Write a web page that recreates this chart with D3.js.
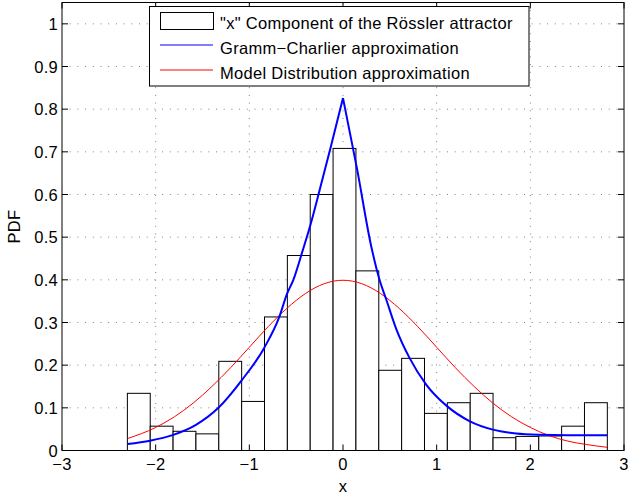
<!DOCTYPE html>
<html>
<head>
<meta charset="utf-8">
<script src="https://cdn.jsdelivr.net/npm/d3@7"></script>
<style>
  body { margin: 0; background: #fff; }
  svg { display: block; font-family: 'Liberation Sans', Arial, sans-serif; }
  text { font-size: 16.5px; letter-spacing: 0.3px; }
</style>
</head>
<body>
<svg id="chart" width="629" height="498"></svg>
<script>
// histogram bin edges and heights
const binEdges = [-2.302, -2.058, -1.814, -1.570, -1.326, -1.082, -0.838, -0.594, -0.350, -0.106,
    0.138, 0.382, 0.626, 0.870, 1.114, 1.358, 1.602, 1.846, 2.090, 2.334, 2.578, 2.822];
const binHeights = [0.134, 0.057, 0.045, 0.039, 0.209, 0.115, 0.313, 0.457, 0.600, 0.708,
    0.421, 0.188, 0.216, 0.087, 0.112, 0.134, 0.030, 0.033, 0.034, 0.057, 0.112];

// Gramm-Charlier curve
const gcX = [-2.30, -2.06, -1.82, -1.57, -1.33, -1.08, -0.84, -0.68, -0.60, -0.53, -0.43, -0.345, -0.25, -0.13, 0,
    0.15, 0.30, 0.39, 0.46, 0.57, 0.71, 0.89, 1.11, 1.35, 1.60, 1.85, 2.10, 2.40, 2.82];
const gcY = [0.015, 0.023, 0.036, 0.060, 0.100, 0.165, 0.241, 0.313, 0.366, 0.400, 0.469, 0.531, 0.610, 0.712, 0.826,
    0.660, 0.480, 0.400, 0.355, 0.284, 0.217, 0.154, 0.104, 0.069, 0.049, 0.040, 0.037, 0.036, 0.036];

// Model distribution curve
const mdX = [-2.30, -2.0, -1.8, -1.6, -1.4, -1.2, -1.0, -0.8, -0.6, -0.4, -0.2, 0,
    0.2, 0.4, 0.6, 0.8, 1.0, 1.2, 1.4, 1.6, 1.8, 2.0, 2.2, 2.4, 2.6, 2.82];
const mdY = [0.028, 0.054, 0.079, 0.111, 0.150, 0.194, 0.242, 0.290, 0.333, 0.368, 0.391, 0.399,
    0.391, 0.368, 0.333, 0.290, 0.242, 0.194, 0.150, 0.111, 0.079, 0.054, 0.035, 0.022, 0.014, 0.0075];

const xTicks = [-3, -2, -1, 0, 1, 2, 3];
const yTicks = [0, 0.1, 0.2, 0.3, 0.4, 0.5, 0.6, 0.7, 0.8, 0.9, 1];
const legendLabels = ['"x" Component of the R\u00f6ssler attractor', 'Gramm\u2212Charlier approximation', 'Model Distribution approximation'];

const box = { left: 62, right: 624, top: 2.5, bottom: 450.5 };
const tickLen = 6;

const svg = d3.select('#chart');

const x = d3.scaleLinear().domain([-3, 3]).range([box.left, box.right]);
const y = d3.scaleLinear().domain([0, 1.05]).range([box.bottom, box.top]);

// grid
svg.append('g')
    .selectAll('line')
    .data(xTicks.filter(d => d > -3 && d < 3))
    .enter()
    .append('line')
    .attr('x1', d => x(d)).attr('x2', d => x(d))
    .attr('y1', box.top).attr('y2', box.bottom)
    .attr('stroke', '#808080')
    .attr('stroke-dasharray', '1,6.7');

svg.append('g')
    .selectAll('line')
    .data(yTicks.filter(d => d > 0))
    .enter()
    .append('line')
    .attr('x1', box.left).attr('x2', box.right)
    .attr('y1', d => y(d)).attr('y2', d => y(d))
    .attr('stroke', '#808080')
    .attr('stroke-dasharray', '1,6.7');

// histogram bars
svg.append('g')
    .selectAll('rect')
    .data(binHeights)
    .enter()
    .append('rect')
    .attr('x', (d, i) => x(binEdges[i]))
    .attr('width', (d, i) => x(binEdges[i + 1]) - x(binEdges[i]))
    .attr('y', d => y(d))
    .attr('height', d => y(0) - y(d))
    .attr('fill', '#fff')
    .attr('stroke', '#000')
    .attr('stroke-width', 1);

// curves
const gcPts = gcX.map((v, i) => [v, gcY[i]]);
const mdPts = mdX.map((v, i) => [v, mdY[i]]);

const line = d3.line()
    .x(d => x(d[0]))
    .y(d => y(d[1]))
    .curve(d3.curveMonotoneX);

svg.append('path')
    .attr('d', line(mdPts))
    .attr('fill', 'none')
    .attr('stroke', '#ff0000')
    .attr('stroke-width', 1);

// blue curve has a sharp tip at 0, so draw the two sides separately
[gcPts.filter(d => d[0] <= 0), gcPts.filter(d => d[0] >= 0)].forEach(part => {
    svg.append('path')
        .attr('d', line(part))
        .attr('fill', 'none')
        .attr('stroke', '#0000ff')
        .attr('stroke-width', 2);
});

// axes box
svg.append('rect')
    .attr('x', box.left).attr('y', box.top)
    .attr('width', box.right - box.left)
    .attr('height', box.bottom - box.top)
    .attr('fill', 'none')
    .attr('stroke', '#000')
    .attr('stroke-width', 1);

// tick marks on all four sides
const ticks = svg.append('g').attr('stroke', '#000');
xTicks.forEach(t => {
    ticks.append('line').attr('x1', x(t)).attr('x2', x(t)).attr('y1', box.bottom).attr('y2', box.bottom - tickLen);
    ticks.append('line').attr('x1', x(t)).attr('x2', x(t)).attr('y1', box.top).attr('y2', box.top + tickLen);
});
yTicks.forEach(t => {
    ticks.append('line').attr('x1', box.left).attr('x2', box.left + tickLen).attr('y1', y(t)).attr('y2', y(t));
    ticks.append('line').attr('x1', box.right).attr('x2', box.right - tickLen).attr('y1', y(t)).attr('y2', y(t));
});

// tick labels
svg.append('g')
    .selectAll('text')
    .data(xTicks)
    .enter()
    .append('text')
    .attr('x', d => x(d))
    .attr('y', 470)
    .attr('text-anchor', 'middle')
    .text(d => d3.format('d')(d));

svg.append('g')
    .selectAll('text')
    .data(yTicks)
    .enter()
    .append('text')
    .attr('x', 58)
    .attr('y', d => y(d) + 6)
    .attr('text-anchor', 'end')
    .text(d => d3.format('~g')(d));

// axis labels
svg.append('text')
    .attr('x', x(0))
    .attr('y', 492)
    .attr('text-anchor', 'middle')
    .text('x');

svg.append('text')
    .attr('transform', 'translate(20,' + ((box.top + box.bottom) / 2) + ') rotate(-90)')
    .attr('text-anchor', 'middle')
    .text('PDF');

// legend
const legend = svg.append('g');
legend.append('rect')
    .attr('x', 149.5).attr('y', 6.5)
    .attr('width', 379.5).attr('height', 79.5)
    .attr('fill', '#fff')
    .attr('stroke', '#000');

legend.append('rect')
    .attr('x', 160.5).attr('y', 12.5)
    .attr('width', 53).attr('height', 17)
    .attr('fill', '#fff')
    .attr('stroke', '#000');

[['#0000ff', 45], ['#ff0000', 70]].forEach(c => {
    legend.append('line')
        .attr('x1', 160).attr('x2', 213)
        .attr('y1', c[1]).attr('y2', c[1])
        .attr('stroke', c[0]);
});

legend.selectAll('text')
    .data(legendLabels)
    .enter()
    .append('text')
    .attr('x', 220)
    .attr('y', (d, i) => [29, 54, 78.5][i])
    .text(d => d);
</script>
</body>
</html>
